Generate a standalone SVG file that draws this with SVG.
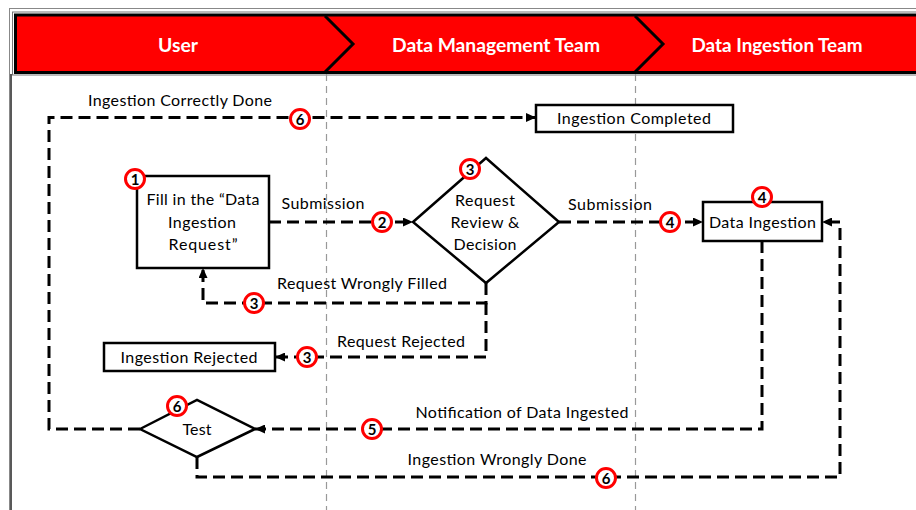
<svg xmlns="http://www.w3.org/2000/svg" width="916" height="510" viewBox="0 0 916 510">
<defs>
<marker id="arr" markerUnits="userSpaceOnUse" markerWidth="10" markerHeight="9" refX="10" refY="4.5" orient="auto">
<path d="M0,0 L10,4.5 L0,9 z" fill="#000"/>
</marker>
</defs>
<style>
.t{font-family:Lato,"Liberation Sans",sans-serif;font-size:16px;fill:#000;text-anchor:middle}
.h{font-family:Lato,"Liberation Sans",sans-serif;font-size:18.5px;font-weight:bold;fill:#fff;text-anchor:middle}
.box{fill:#fff;stroke:#000;stroke-width:2.5}
.c{fill:none;stroke:#000;stroke-width:3;stroke-dasharray:12 6;marker-end:url(#arr)}
.lane{stroke:#999;stroke-width:1.2;stroke-dasharray:7 5}
.num circle{fill:#fff;stroke:#f00;stroke-width:3}
.num text{font-family:Lato,"Liberation Sans",sans-serif;font-size:15px;font-weight:bold;fill:#000;text-anchor:middle}
</style>
<rect x="0" y="0" width="916" height="510" fill="#fff"/>
<g id="frame">
<rect x="9.5" y="8.5" width="920" height="520" fill="none" stroke="#888" stroke-width="1"/>
<line x1="11" y1="74" x2="11" y2="510" stroke="#222" stroke-width="1.5"/>
<rect x="12.5" y="12" width="920" height="63" fill="none" stroke="#777" stroke-width="1"/>
</g>
<g id="header">
<rect x="15.5" y="15" width="920" height="57.5" fill="#f00" stroke="#000" stroke-width="3"/>
<path d="M325,16 L353,44 L325,72" fill="none" stroke="#000" stroke-width="3"/>
<path d="M635,16 L663,44 L635,72" fill="none" stroke="#000" stroke-width="3"/>
<text class="h" x="178" y="52" textLength="40" lengthAdjust="spacingAndGlyphs">User</text>
<text class="h" x="496" y="52" textLength="208" lengthAdjust="spacingAndGlyphs">Data Management Team</text>
<text class="h" x="777" y="52" textLength="171" lengthAdjust="spacingAndGlyphs">Data Ingestion Team</text>
</g>
<g id="lanes">
<line class="lane" x1="326.5" y1="74" x2="326.5" y2="510"/>
<line class="lane" x1="635.5" y1="74" x2="635.5" y2="510"/>
</g>
<g id="connectors">
<path class="c" d="M269,222 H413"/>
<path class="c" d="M559,222 H703"/>
<path class="c" d="M486,283 V303 H203 V268"/>
<path class="c" d="M486,303 V357 H275"/>
<path class="c" d="M762,241 V429 H255"/>
<path class="c" d="M197,457 V477 H840 V222 H822"/>
<path class="c" d="M140,429 H49 V117.5 H536"/>
<text class="t" x="180" y="105.5" textLength="184">Ingestion Correctly Done</text>
<text class="t" x="323" y="208.5" textLength="83">Submission</text>
<text class="t" x="610" y="209.5" textLength="84">Submission</text>
<text class="t" x="362" y="288.5" textLength="170">Request Wrongly Filled</text>
<text class="t" x="401" y="346.5" textLength="128">Request Rejected</text>
<text class="t" x="522" y="417.5" textLength="213">Notification of Data Ingested</text>
<text class="t" x="497" y="464.5" textLength="179">Ingestion Wrongly Done</text>
</g>
<g id="n1">
<rect class="box" x="137" y="176" width="132" height="92"/>
<text class="t" x="203" y="204.5" textLength="113">Fill in the “Data</text>
<text class="t" x="202" y="227.5" textLength="68">Ingestion</text>
<text class="t" x="203" y="250" textLength="69">Request”</text>
</g>
<g id="n3">
<polygon class="box" points="413,222 486,158 559,222 486,283"/>
<text class="t" x="485" y="205.5" textLength="60">Request</text>
<text class="t" x="485" y="227.5" textLength="69">Review &amp;</text>
<text class="t" x="485" y="249.5" textLength="63">Decision</text>
</g>
<g id="n4">
<rect class="box" x="703" y="202" width="119" height="39"/>
<text class="t" x="762.5" y="227.5" textLength="107">Data Ingestion</text>
</g>
<g id="completed">
<rect class="box" x="536" y="105" width="197" height="27"/>
<text class="t" x="634" y="123.5" textLength="154">Ingestion Completed</text>
</g>
<g id="rejected">
<rect class="box" x="104" y="343" width="171" height="28"/>
<text class="t" x="189" y="362.5" textLength="137">Ingestion Rejected</text>
</g>
<g id="test">
<polygon class="box" points="140,429 197,400 255,429 197,457"/>
<text class="t" x="197" y="434.5" textLength="29">Test</text>
</g>
<g id="badges" class="num">
<g><circle cx="135" cy="179" r="9.5"/><text x="135" y="184.5">1</text></g>
<g><circle cx="382" cy="222" r="9.5"/><text x="382" y="227.5">2</text></g>
<g><circle cx="470" cy="169" r="9.5"/><text x="470" y="174.5">3</text></g>
<g><circle cx="670" cy="222" r="9.5"/><text x="670" y="227.5">4</text></g>
<g><circle cx="762" cy="197" r="9.5"/><text x="762" y="202.5">4</text></g>
<g><circle cx="254" cy="303" r="9.5"/><text x="254" y="308.5">3</text></g>
<g><circle cx="307" cy="357" r="9.5"/><text x="307" y="362.5">3</text></g>
<g><circle cx="300" cy="119" r="9.5"/><text x="300" y="124.5">6</text></g>
<g><circle cx="177" cy="406" r="9.5"/><text x="177" y="411.5">6</text></g>
<g><circle cx="372" cy="429" r="9.5"/><text x="372" y="434.5">5</text></g>
<g><circle cx="606" cy="478" r="9.5"/><text x="606" y="483.5">6</text></g>
</g>
</svg>
